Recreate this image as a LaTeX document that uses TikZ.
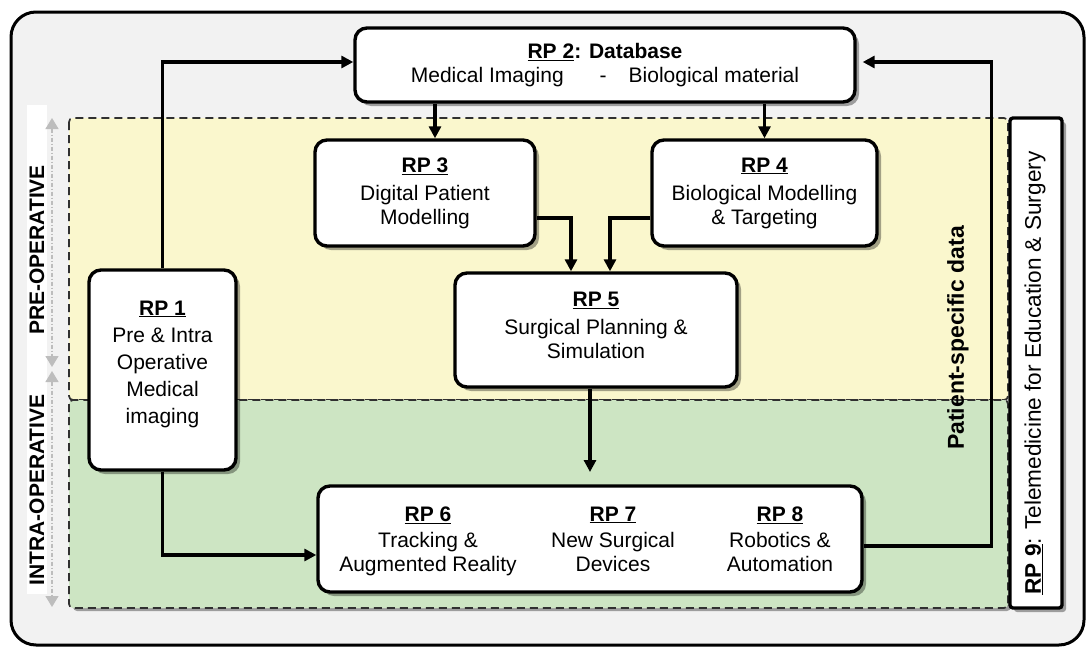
\documentclass[tikz,border=0pt]{standalone}
\usepackage{fontspec}
\setmainfont{Liberation Sans}
\usetikzlibrary{arrows.meta,shadows}
\definecolor{bgout}{HTML}{F2F2F2}
\definecolor{preyel}{HTML}{FAF7CD}
\definecolor{intgrn}{HTML}{CDE5C3}
\definecolor{hintgray}{HTML}{BDBDBD}
\definecolor{dashgray}{HTML}{303030}
\newcommand\rptitle[1]{\textbf{\underline{#1}}}
\begin{document}
\begin{tikzpicture}[x=1pt,y=-1pt,
  rpbox/.style={draw=black,line width=3.4pt,rounded corners=12pt,fill=white,align=center,
    font=\fontsize{21}{24}\selectfont,inner sep=0pt,
    drop shadow={shadow xshift=4pt,shadow yshift=-4pt,fill=black,opacity=0.35}},
  txt/.style={align=center,font=\fontsize{21}{24}\selectfont,inner sep=0pt},
  conn/.style={line width=3.1pt,-{Triangle[length=12pt,width=12pt]}},
  region/.style={draw=dashgray,line width=1.7pt,dash pattern=on 8pt off 5pt,rounded corners=4pt},
  sidelabel/.style={rotate=90,font=\fontsize{21}{24}\selectfont\bfseries,inner sep=0pt},
  hintarrow/.style={draw=hintgray,line width=1.3pt,dash pattern=on 4pt off 2pt on 1pt off 2pt,
    {Triangle[length=11pt,width=13pt]}-{Triangle[length=11pt,width=13pt]}}
]
\useasboundingbox (0,0) rectangle (1088,648);
% outer frame
\draw[line width=3pt,fill=bgout,rounded corners=25pt] (11,12) rectangle (1084,645);
% phase regions
\fill[black,opacity=0.35,rounded corners=4pt] (73,404) rectangle (1011,611);
\filldraw[region,fill=preyel] (69,118) rectangle (1008,400);
\filldraw[region,fill=intgrn] (69,400) rectangle (1008,608);
% left strip
\fill[white] (27,105) rectangle (47,594);
\node[sidelabel] (pre) at (37,250) {PRE-OPERATIVE};
\node[sidelabel] (intra) at (37,490) {INTRA-OPERATIVE};
\coordinate (h1a) at (52,118);
\coordinate (h1b) at (52,367);
\coordinate (h2a) at (52,371);
\coordinate (h2b) at (52,607);
\draw[hintarrow] (h1a) -- (h1b);
\draw[hintarrow] (h2a) -- (h2b);
% boxes
\node[rpbox,minimum width=500pt,minimum height=74pt] (rp2) at (605,65)
  {\textbf{\underline{RP 2}: Database}\\Medical Imaging\hspace{36pt}-\hspace{22pt}Biological material};
\node[rpbox,minimum width=220pt,minimum height=106pt] (rp3) at (425,193)
  {\rptitle{RP 3}\\[4pt]Digital Patient\\Modelling};
\node[rpbox,minimum width=225pt,minimum height=106pt] (rp4) at (764.5,193)
  {\rptitle{RP 4}\\[4pt]Biological Modelling\\\& Targeting};
\node[rpbox,minimum width=282pt,minimum height=114pt] (rp5) at (596,330) {};
\node[txt] (t5) at (596,325) {\rptitle{RP 5}\\[4pt]Surgical Planning \&\\Simulation};
\node[rpbox,minimum width=147pt,minimum height=200pt] (rp1) at (162.5,370) {};
\node[txt,font=\fontsize{21}{27}\selectfont] (t1) at (162.5,364)
  {\rptitle{RP 1}\\Pre \& Intra\\Operative\\Medical\\imaging};
\node[rpbox,minimum width=544pt,minimum height=106pt] (rp678) at (590,539) {};
\node[txt] (t6) at (428,541) {\rptitle{RP 6}\\[2pt]Tracking \&\\Augmented Reality};
\node[txt] (t7) at (613,539) {\rptitle{RP 7}\\[2pt]New Surgical\\Devices};
\node[txt] (t8) at (780,539) {\rptitle{RP 8}\\[2pt]Robotics \&\\Automation};
\node[rpbox,rounded corners=3pt,minimum width=52pt,minimum height=490pt] (rp9) at (1036,363) {};
\node[rotate=90,font=\fontsize{22.6}{26}\selectfont,inner sep=0pt] (t9) at (1035,373)
  {\textbf{\underline{RP 9}}: Telemedicine for Education \& Surgery};
\node[rotate=90,font=\fontsize{23}{26}\selectfont\bfseries,inner sep=0pt] (psd) at (958,338) {Patient-specific data};
% connectors
\draw[conn] (rp1.north) |- ([yshift=3pt]rp2.west);
\draw[conn] (rp1.south) |- ([yshift=-16pt]rp678.west);
\draw[conn] ([xshift=10pt]rp3.north |- rp2.south) -- ([xshift=10pt]rp3.north);
\draw[conn] (rp4.north |- rp2.south) -- (rp4.north);
\draw[conn] ([yshift=-25pt]rp3.east) -| ([xshift=-25pt]rp5.north);
\draw[conn] ([yshift=-25pt]rp4.west) -| ([xshift=14pt]rp5.north);
\coordinate (rp5end) at (590,472);
\draw[conn] (rp5.south -| rp5end) -- (rp5end);
\draw[conn] ([yshift=-7pt]rp678.east) -- ++(128,0) |- ([xshift=6pt,yshift=3pt]rp2.east);
\end{tikzpicture}
\end{document}
